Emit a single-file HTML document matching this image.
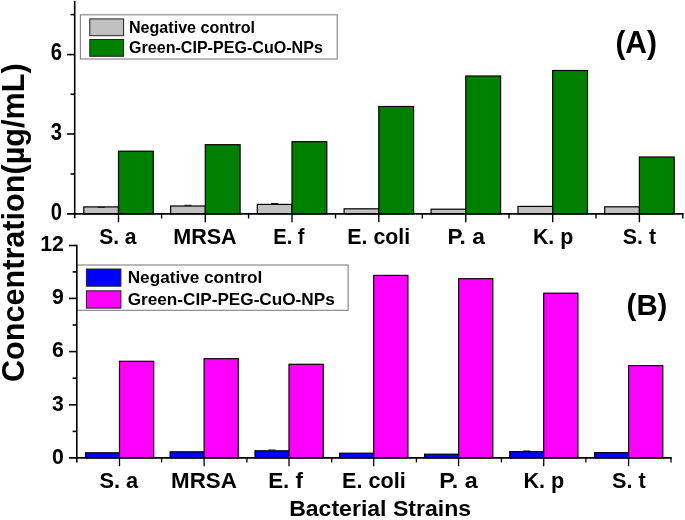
<!DOCTYPE html>
<html><head><meta charset="utf-8"><title>Chart</title>
<style>html,body{margin:0;padding:0;background:#fff;}body{width:685px;height:520px;overflow:hidden;font-family:"Liberation Sans",sans-serif;}svg{display:block;will-change:transform;}svg text{filter:grayscale(1);}</style>
</head><body>
<svg width="685" height="520" viewBox="0 0 685 520">
<rect width="685" height="520" fill="#fff"/>
<rect x="80.4" y="14.8" width="256.8" height="44.2" fill="#fff" stroke="#808080" stroke-width="1.1"/>
<rect x="89.8" y="18.9" width="33.8" height="16.8" fill="#c0c0c0" stroke="#222" stroke-width="1"/>
<rect x="89.8" y="39.5" width="33.8" height="16.8" fill="#008000" stroke="#222" stroke-width="1"/>
<text transform="translate(129.00,32.60)" font-size="16.08" text-anchor="start" font-family="Liberation Sans, sans-serif" font-weight="bold">Negative control</text>
<text transform="translate(129.00,53.20)" font-size="16.08" text-anchor="start" font-family="Liberation Sans, sans-serif" font-weight="bold">Green-CIP-PEG-CuO-NPs</text>
<rect x="83.80" y="206.90" width="34.70" height="6.95" fill="#c0c0c0" stroke="#000" stroke-width="1.2"/>
<rect x="118.50" y="151.20" width="34.80" height="62.65" fill="#008000" stroke="#000" stroke-width="1.2"/>
<line x1="97.55" y1="207.30" x2="104.75" y2="207.30" stroke="#111" stroke-width="1"/>
<rect x="170.60" y="206.00" width="34.70" height="7.85" fill="#c0c0c0" stroke="#000" stroke-width="1.2"/>
<rect x="205.30" y="144.70" width="34.80" height="69.15" fill="#008000" stroke="#000" stroke-width="1.2"/>
<line x1="184.35" y1="205.30" x2="191.55" y2="205.30" stroke="#111" stroke-width="1"/>
<rect x="257.30" y="204.40" width="34.70" height="9.45" fill="#c0c0c0" stroke="#000" stroke-width="1.2"/>
<rect x="292.00" y="141.70" width="34.80" height="72.15" fill="#008000" stroke="#000" stroke-width="1.2"/>
<line x1="271.05" y1="203.50" x2="278.25" y2="203.50" stroke="#111" stroke-width="1"/>
<rect x="344.10" y="208.80" width="34.70" height="5.05" fill="#c0c0c0" stroke="#000" stroke-width="1.2"/>
<rect x="378.80" y="106.50" width="34.80" height="107.35" fill="#008000" stroke="#000" stroke-width="1.2"/>
<rect x="431.10" y="209.20" width="34.70" height="4.65" fill="#c0c0c0" stroke="#000" stroke-width="1.2"/>
<rect x="465.80" y="76.00" width="34.80" height="137.85" fill="#008000" stroke="#000" stroke-width="1.2"/>
<rect x="518.00" y="206.40" width="34.70" height="7.45" fill="#c0c0c0" stroke="#000" stroke-width="1.2"/>
<rect x="552.70" y="70.50" width="34.80" height="143.35" fill="#008000" stroke="#000" stroke-width="1.2"/>
<rect x="604.70" y="206.80" width="34.70" height="7.05" fill="#c0c0c0" stroke="#000" stroke-width="1.2"/>
<rect x="639.40" y="157.00" width="34.80" height="56.85" fill="#008000" stroke="#000" stroke-width="1.2"/>
<g stroke="#000" fill="none">
<g stroke-width="1.6">
<line x1="74.70" y1="0.80" x2="74.70" y2="218.25"/>
<line x1="67.10" y1="134.00" x2="74.70" y2="134.00"/>
<line x1="67.10" y1="54.60" x2="74.70" y2="54.60"/>
<line x1="70.50" y1="174.00" x2="74.70" y2="174.00"/>
<line x1="70.50" y1="94.30" x2="74.70" y2="94.30"/>
<line x1="70.50" y1="14.60" x2="74.70" y2="14.60"/>
</g><g stroke-width="1.9">
<line x1="67.10" y1="213.85" x2="683.60" y2="213.85"/>
</g><g stroke-width="1.4">
<line x1="118.50" y1="213.85" x2="118.50" y2="222.25"/>
<line x1="205.30" y1="213.85" x2="205.30" y2="222.25"/>
<line x1="292.00" y1="213.85" x2="292.00" y2="222.25"/>
<line x1="378.80" y1="213.85" x2="378.80" y2="222.25"/>
<line x1="465.80" y1="213.85" x2="465.80" y2="222.25"/>
<line x1="552.70" y1="213.85" x2="552.70" y2="222.25"/>
<line x1="639.40" y1="213.85" x2="639.40" y2="222.25"/>
<line x1="161.60" y1="213.85" x2="161.60" y2="218.45"/>
<line x1="248.60" y1="213.85" x2="248.60" y2="218.45"/>
<line x1="335.50" y1="213.85" x2="335.50" y2="218.45"/>
<line x1="422.30" y1="213.85" x2="422.30" y2="218.45"/>
<line x1="509.00" y1="213.85" x2="509.00" y2="218.45"/>
<line x1="596.00" y1="213.85" x2="596.00" y2="218.45"/>
<line x1="682.80" y1="213.85" x2="682.80" y2="218.45"/>
</g></g>
<text transform="translate(62.00,219.55) scale(0.8800,1.0000)" font-size="23.0" text-anchor="end" font-family="Liberation Sans, sans-serif" font-weight="bold">0</text>
<text transform="translate(62.00,139.70) scale(0.8800,1.0000)" font-size="23.0" text-anchor="end" font-family="Liberation Sans, sans-serif" font-weight="bold">3</text>
<text transform="translate(62.00,60.30) scale(0.8800,1.0000)" font-size="23.0" text-anchor="end" font-family="Liberation Sans, sans-serif" font-weight="bold">6</text>
<text transform="translate(117.80,244.10) scale(0.9677,1.0000)" font-size="21.7" text-anchor="middle" font-family="Liberation Sans, sans-serif" font-weight="bold">S. a</text>
<text transform="translate(204.90,244.10) scale(0.9939,1.0000)" font-size="21.7" text-anchor="middle" font-family="Liberation Sans, sans-serif" font-weight="bold">MRSA</text>
<text transform="translate(288.90,244.10) scale(0.9261,1.0000)" font-size="21.7" text-anchor="middle" font-family="Liberation Sans, sans-serif" font-weight="bold">E. f</text>
<text transform="translate(378.70,244.10) scale(0.9832,1.0000)" font-size="21.7" text-anchor="middle" font-family="Liberation Sans, sans-serif" font-weight="bold">E. coli</text>
<text transform="translate(466.10,244.10) scale(1.0432,1.0000)" font-size="21.7" text-anchor="middle" font-family="Liberation Sans, sans-serif" font-weight="bold">P. a</text>
<text transform="translate(553.10,244.10) scale(0.9871,1.0000)" font-size="21.7" text-anchor="middle" font-family="Liberation Sans, sans-serif" font-weight="bold">K. p</text>
<text transform="translate(639.50,244.10) scale(0.9871,1.0000)" font-size="21.7" text-anchor="middle" font-family="Liberation Sans, sans-serif" font-weight="bold">S. t</text>
<text transform="translate(636.20,53.10) scale(0.9677,1.0000)" font-size="31" text-anchor="middle" font-family="Liberation Sans, sans-serif" font-weight="bold">(A)</text>
<rect x="76.8" y="265.0" width="271.3" height="45.3" fill="#fff" stroke="#808080" stroke-width="1.1"/>
<rect x="86.4" y="269.0" width="34.5" height="17.2" fill="#0000ff" stroke="#222" stroke-width="1"/>
<rect x="86.4" y="290.8" width="34.5" height="17.3" fill="#ff00ff" stroke="#222" stroke-width="1"/>
<text transform="translate(127.70,283.40)" font-size="17.18" text-anchor="start" font-family="Liberation Sans, sans-serif" font-weight="bold">Negative control</text>
<text transform="translate(127.70,305.20)" font-size="17.18" text-anchor="start" font-family="Liberation Sans, sans-serif" font-weight="bold">Green-CIP-PEG-CuO-NPs</text>
<rect x="85.50" y="452.80" width="34.00" height="5.00" fill="#0000ff" stroke="#000" stroke-width="1.2"/>
<rect x="119.50" y="361.30" width="34.20" height="96.50" fill="#ff00ff" stroke="#000" stroke-width="1.2"/>
<rect x="170.10" y="451.80" width="34.00" height="6.00" fill="#0000ff" stroke="#000" stroke-width="1.2"/>
<rect x="204.10" y="358.70" width="34.20" height="99.10" fill="#ff00ff" stroke="#000" stroke-width="1.2"/>
<rect x="255.00" y="450.80" width="34.00" height="7.00" fill="#0000ff" stroke="#000" stroke-width="1.2"/>
<rect x="289.00" y="364.30" width="34.20" height="93.50" fill="#ff00ff" stroke="#000" stroke-width="1.2"/>
<line x1="268.40" y1="450.00" x2="275.60" y2="450.00" stroke="#111" stroke-width="1"/>
<rect x="339.70" y="453.20" width="34.00" height="4.60" fill="#0000ff" stroke="#000" stroke-width="1.2"/>
<rect x="373.70" y="275.40" width="34.20" height="182.40" fill="#ff00ff" stroke="#000" stroke-width="1.2"/>
<rect x="424.60" y="454.20" width="34.00" height="3.60" fill="#0000ff" stroke="#000" stroke-width="1.2"/>
<rect x="458.60" y="278.70" width="34.20" height="179.10" fill="#ff00ff" stroke="#000" stroke-width="1.2"/>
<rect x="509.70" y="451.60" width="34.00" height="6.20" fill="#0000ff" stroke="#000" stroke-width="1.2"/>
<rect x="543.70" y="293.20" width="34.20" height="164.60" fill="#ff00ff" stroke="#000" stroke-width="1.2"/>
<line x1="523.10" y1="451.00" x2="530.30" y2="451.00" stroke="#111" stroke-width="1"/>
<rect x="594.60" y="452.60" width="34.00" height="5.20" fill="#0000ff" stroke="#000" stroke-width="1.2"/>
<rect x="628.60" y="365.60" width="34.20" height="92.20" fill="#ff00ff" stroke="#000" stroke-width="1.2"/>
<g stroke="#000" fill="none">
<g stroke-width="1.6">
<line x1="76.80" y1="244.70" x2="76.80" y2="462.50"/>
<line x1="69.00" y1="404.80" x2="76.80" y2="404.80"/>
<line x1="69.00" y1="351.60" x2="76.80" y2="351.60"/>
<line x1="69.00" y1="298.40" x2="76.80" y2="298.40"/>
<line x1="69.00" y1="245.50" x2="76.80" y2="245.50"/>
<line x1="72.60" y1="431.40" x2="76.80" y2="431.40"/>
<line x1="72.60" y1="378.20" x2="76.80" y2="378.20"/>
<line x1="72.60" y1="325.00" x2="76.80" y2="325.00"/>
<line x1="72.60" y1="271.90" x2="76.80" y2="271.90"/>
</g><g stroke-width="1.7">
<line x1="69.00" y1="457.80" x2="671.70" y2="457.80"/>
</g><g stroke-width="1.3">
<line x1="119.50" y1="457.80" x2="119.50" y2="466.20"/>
<line x1="204.10" y1="457.80" x2="204.10" y2="466.20"/>
<line x1="289.00" y1="457.80" x2="289.00" y2="466.20"/>
<line x1="373.70" y1="457.80" x2="373.70" y2="466.20"/>
<line x1="458.60" y1="457.80" x2="458.60" y2="466.20"/>
<line x1="543.70" y1="457.80" x2="543.70" y2="466.20"/>
<line x1="628.60" y1="457.80" x2="628.60" y2="466.20"/>
<line x1="161.60" y1="457.80" x2="161.60" y2="462.40"/>
<line x1="246.90" y1="457.80" x2="246.90" y2="462.40"/>
<line x1="331.70" y1="457.80" x2="331.70" y2="462.40"/>
<line x1="416.40" y1="457.80" x2="416.40" y2="462.40"/>
<line x1="501.40" y1="457.80" x2="501.40" y2="462.40"/>
<line x1="585.90" y1="457.80" x2="585.90" y2="462.40"/>
<line x1="671.00" y1="457.80" x2="671.00" y2="462.40"/>
</g></g>
<text transform="translate(63.80,463.60) scale(0.9500,1.0000)" font-size="22.4" text-anchor="end" font-family="Liberation Sans, sans-serif" font-weight="bold">0</text>
<text transform="translate(63.80,410.60) scale(0.9500,1.0000)" font-size="22.4" text-anchor="end" font-family="Liberation Sans, sans-serif" font-weight="bold">3</text>
<text transform="translate(63.80,357.40) scale(0.9500,1.0000)" font-size="22.4" text-anchor="end" font-family="Liberation Sans, sans-serif" font-weight="bold">6</text>
<text transform="translate(63.80,304.20) scale(0.9500,1.0000)" font-size="22.4" text-anchor="end" font-family="Liberation Sans, sans-serif" font-weight="bold">9</text>
<text transform="translate(63.80,251.30) scale(0.9500,1.0000)" font-size="22.4" text-anchor="end" font-family="Liberation Sans, sans-serif" font-weight="bold">12</text>
<text transform="translate(118.80,488.30) scale(0.9916,1.0000)" font-size="22.0" text-anchor="middle" font-family="Liberation Sans, sans-serif" font-weight="bold">S. a</text>
<text transform="translate(203.95,488.30) scale(1.0152,1.0000)" font-size="22.0" text-anchor="middle" font-family="Liberation Sans, sans-serif" font-weight="bold">MRSA</text>
<text transform="translate(285.60,488.30) scale(1.0172,1.0000)" font-size="22.0" text-anchor="middle" font-family="Liberation Sans, sans-serif" font-weight="bold">E. f</text>
<text transform="translate(373.90,488.30) scale(0.9818,1.0000)" font-size="22.0" text-anchor="middle" font-family="Liberation Sans, sans-serif" font-weight="bold">E. coli</text>
<text transform="translate(458.55,488.30) scale(1.0604,1.0000)" font-size="22.0" text-anchor="middle" font-family="Liberation Sans, sans-serif" font-weight="bold">P. a</text>
<text transform="translate(543.90,488.30) scale(0.9818,1.0000)" font-size="22.0" text-anchor="middle" font-family="Liberation Sans, sans-serif" font-weight="bold">K. p</text>
<text transform="translate(628.80,488.30) scale(0.9818,1.0000)" font-size="22.0" text-anchor="middle" font-family="Liberation Sans, sans-serif" font-weight="bold">S. t</text>
<text transform="translate(647.00,315.30) scale(1.0200,1.0000)" font-size="28.8" text-anchor="middle" font-family="Liberation Sans, sans-serif" font-weight="bold">(B)</text>
<text transform="translate(380.10,515.60) scale(1.0627,1.0000)" font-size="21.7" text-anchor="middle" font-family="Liberation Sans, sans-serif" font-weight="bold">Bacterial Strains</text>
<text transform="translate(23.80,222.70) rotate(-90)" font-size="30.64" text-anchor="middle" font-family="Liberation Sans, sans-serif" font-weight="bold">Concentration(µg/mL)</text>
</svg>
</body></html>
